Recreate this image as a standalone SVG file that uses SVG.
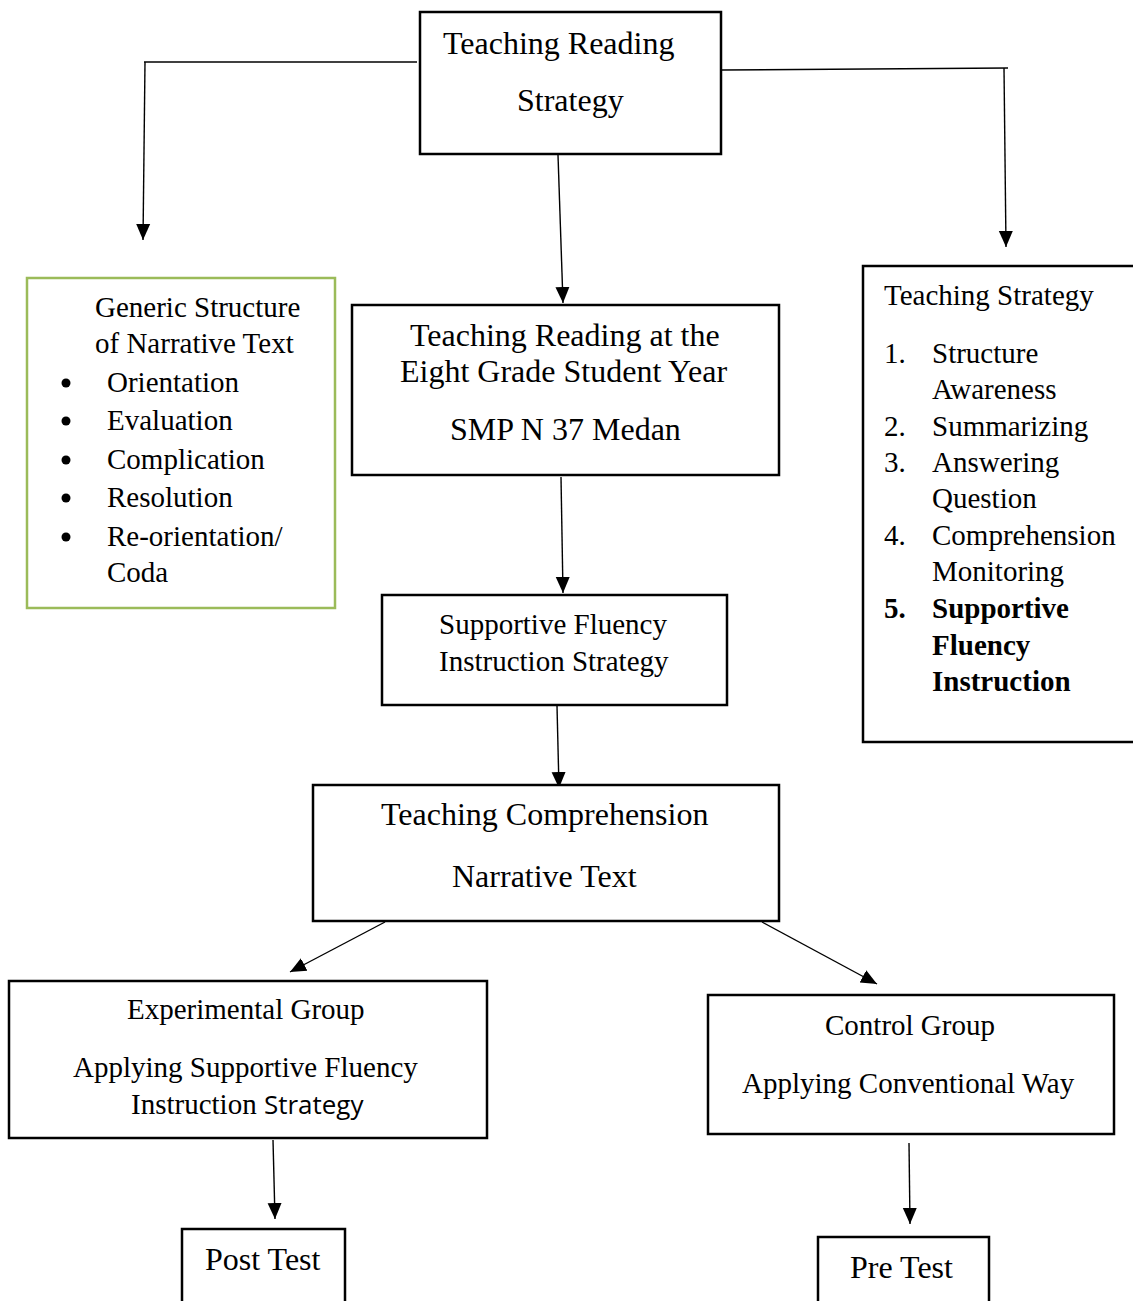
<svg xmlns="http://www.w3.org/2000/svg" width="1133" height="1301" viewBox="0 0 1133 1301">
<defs>
<marker id="ah" markerUnits="userSpaceOnUse" markerWidth="16" markerHeight="18" refX="16" refY="7" orient="auto" viewBox="0 0 16 14">
<path d="M0,0 L16,7 L0,14 Z" fill="#000"/>
</marker>
<style>
.box{fill:#fff;stroke:#000;stroke-width:2.5}
.gbox{fill:#fff;stroke:#9BBB59;stroke-width:2.5}
.t{font-family:"Liberation Serif","Times New Roman",serif;fill:#000}
.s32{font-size:32px}
.s29{font-size:29px}
.b{font-weight:bold}
.sans{font-family:"Open Sans","Liberation Sans",sans-serif;font-size:26px}
.c{stroke:#000;stroke-width:1.4;fill:none}
.ca{stroke:#000;stroke-width:1.4;fill:none;marker-end:url(#ah)}
</style>
</defs>
<rect width="1133" height="1301" fill="#fff"/>
<g id="connectors">
<path class="c" d="M144,62 L417,62"/>
<path class="ca" d="M145,62 L143,240"/>
<path class="c" d="M722,70 L1008,68"/>
<path class="ca" d="M1004,68 L1006,247"/>
<path class="ca" d="M558,155 L563,303"/>
<path class="ca" d="M561,477 L563,593"/>
<path class="ca" d="M557,706 L559,788"/>
<path class="ca" d="M385,922 L290,972"/>
<path class="ca" d="M762,922 L877,984"/>
<path class="ca" d="M273,1140 L275,1219"/>
<path class="ca" d="M909,1143 L910,1224"/>
</g>
<g id="n-top">
<rect class="box" x="420" y="12" width="301" height="142"/>
<text class="t s32" x="443" y="54">Teaching Reading</text>
<text class="t s32" x="517" y="111">Strategy</text>
</g>
<g id="n-generic">
<rect class="gbox" x="27" y="278" width="308" height="330"/>
<text class="t s29" x="95" y="317">Generic Structure</text>
<text class="t s29" x="95" y="353">of Narrative Text</text>
<g fill="#000">
<circle cx="66" cy="383" r="4.5"/>
<circle cx="66" cy="421" r="4.5"/>
<circle cx="66" cy="460" r="4.5"/>
<circle cx="66" cy="498" r="4.5"/>
<circle cx="66" cy="537" r="4.5"/>
</g>
<text class="t s29" x="107" y="392">Orientation</text>
<text class="t s29" x="107" y="430">Evaluation</text>
<text class="t s29" x="107" y="469">Complication</text>
<text class="t s29" x="107" y="507">Resolution</text>
<text class="t s29" x="107" y="546">Re-orientation/</text>
<text class="t s29" x="107" y="582">Coda</text>
</g>
<g id="n-eight">
<rect class="box" x="352" y="305" width="427" height="170"/>
<text class="t s32" x="410" y="346">Teaching Reading at the</text>
<text class="t s32" x="400" y="382">Eight Grade Student Year</text>
<text class="t s32" x="450" y="440">SMP N 37 Medan</text>
</g>
<g id="n-strategy">
<rect class="box" x="863" y="266" width="300" height="476"/>
<text class="t s29" x="884" y="305">Teaching Strategy</text>
<text class="t s29" x="884" y="363">1.</text>
<text class="t s29" x="932" y="363">Structure</text>
<text class="t s29" x="932" y="399">Awareness</text>
<text class="t s29" x="884" y="436">2.</text>
<text class="t s29" x="932" y="436">Summarizing</text>
<text class="t s29" x="884" y="472">3.</text>
<text class="t s29" x="932" y="472">Answering</text>
<text class="t s29" x="932" y="508">Question</text>
<text class="t s29" x="884" y="545">4.</text>
<text class="t s29" x="932" y="545">Comprehension</text>
<text class="t s29" x="932" y="581">Monitoring</text>
<text class="t s29 b" x="884" y="618">5.</text>
<text class="t s29 b" x="932" y="618">Supportive</text>
<text class="t s29 b" x="932" y="655">Fluency</text>
<text class="t s29 b" x="932" y="691">Instruction</text>
</g>
<g id="n-sfi">
<rect class="box" x="382" y="595" width="345" height="110"/>
<text class="t s29" x="439" y="634">Supportive Fluency</text>
<text class="t s29" x="439" y="671">Instruction Strategy</text>
</g>
<g id="n-comp">
<rect class="box" x="313" y="785" width="466" height="136"/>
<text class="t s32" x="381" y="825">Teaching Comprehension</text>
<text class="t s32" x="452" y="887">Narrative Text</text>
</g>
<g id="n-exp">
<rect class="box" x="9" y="981" width="478" height="157"/>
<text class="t s29" x="127" y="1019">Experimental Group</text>
<text class="t s29" x="73" y="1077">Applying Supportive Fluency</text>
<text class="t s29" x="131" y="1114">Instruction <tspan class="sans">Strategy</tspan></text>
</g>
<g id="n-ctrl">
<rect class="box" x="708" y="995" width="406" height="139"/>
<text class="t s29" x="825" y="1035">Control Group</text>
<text class="t s29" x="742" y="1093">Applying Conventional Way</text>
</g>
<g id="n-post">
<rect class="box" x="182" y="1229" width="163" height="100"/>
<text class="t s32" x="205" y="1270">Post Test</text>
</g>
<g id="n-pre">
<rect class="box" x="818" y="1237" width="171" height="100"/>
<text class="t s32" x="850" y="1278">Pre Test</text>
</g>
</svg>
